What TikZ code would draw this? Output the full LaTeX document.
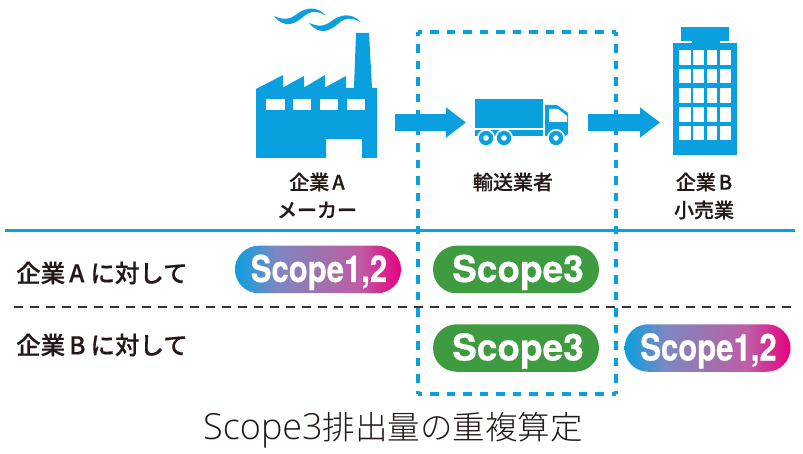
\documentclass[tikz,border=0pt]{standalone}
\usepackage{fontspec}
\usepackage{graphicx}
\usetikzlibrary{arrows.meta}
\setmainfont{Noto Sans CJK JP}
\newfontfamily\jpbold[FakeBold=0.35]{Noto Sans CJK JP Medium}
\newfontfamily\jplight{Noto Sans CJK JP Light}
\newfontfamily\latlight{Open Sans Light}
\setsansfont{TeX Gyre Heros}[BoldFeatures={FakeBold=0.5}]
\definecolor{ibl}{HTML}{0A9FDF}
\definecolor{igr}{HTML}{3F9B3F}
\definecolor{itx}{HTML}{231815}
\definecolor{imag}{HTML}{E6007E}
\definecolor{ig1}{HTML}{7D87C3}
\definecolor{ig2}{HTML}{9C73AE}
\definecolor{ig3}{HTML}{C05CA5}
\pgfdeclarehorizontalshading{scopegrad}{100bp}{color(0bp)=(ibl); color(25bp)=(ibl); color(37.5bp)=(ig1); color(50bp)=(ig2); color(62.5bp)=(ig3); color(75bp)=(imag); color(100bp)=(imag)}
\tikzset{
  x=1pt,y=-1pt,
  icon/.style={fill=ibl,draw=none},
  hole/.style={fill=white,draw=none},
  flow/.style={draw=ibl,line width=17pt,-{Triangle[length=20pt,width=29pt]}},
  zone/.style={draw=ibl,line width=4.8pt,dash pattern=on 8.5pt off 8pt,dash phase=4.25pt},
  caption/.style={font=\jpbold\fontsize{20}{20}\selectfont,text=itx,inner sep=0pt,anchor=center},
  rowlabel/.style={font=\jpbold\fontsize{24.5}{24.5}\selectfont,text=itx,inner sep=0pt,anchor=west},
  pill/.style={minimum width=166pt,minimum height=47.5pt,rounded corners=23.7pt,inner sep=0pt,text=white,text height=33pt,text depth=8pt,font=\sffamily\bfseries\fontsize{37}{37}\selectfont},
  greenpill/.style={pill,fill=igr},
  gradpill/.style={pill,shading=scopegrad,shading angle=0},
}
\begin{document}
\begin{tikzpicture}
\useasboundingbox (0,0) rectangle (803,454);
% factory
\fill[icon] (256,89) -- (283,75) -- (283,87.5) -- (304,76) -- (304,87.5) -- (325,75) -- (325,87.5) -- (346,76) -- (346,88) -- (354,88) -- (356,33) -- (369,33) -- (372,88) -- (377,88) -- (377,158) -- (362,158) -- (362,139) -- (326,139) -- (326,158) -- (256,158) -- cycle;
\foreach \a/\b in {266/285,293/311,320/338,347/365}
  \fill[hole] (\a,99) rectangle (\b,110);
\foreach \dx/\dy in {0/0,35/6.8}
  \fill[icon,shift={(\dx,\dy)}] (274,16) .. controls (283,20) and (289,20) .. (297,14) .. controls (305,8) and (316,5) .. (326,15.5) .. controls (316,10) and (310,11) .. (303,17) .. controls (296,23) and (285,30) .. (274,16) -- cycle;
% truck
\fill[icon] (475,99) rectangle (543,128);
\fill[icon] (475,130) rectangle (543,136);
\fill[icon] (545,105) -- (557,105) -- (568,113) -- (568,134) -- (565,136) -- (545,136) -- cycle;
\fill[hole] (549,109) -- (558,109) -- (567,116) -- (567,122) -- (549,122) -- cycle;
\foreach \c in {486,504,556}{
  \fill[hole] (\c,138) circle[radius=9];
  \fill[icon] (\c,138) circle[radius=7.2];
  \fill[hole] (\c,138) circle[radius=2.8];
}
% building
\fill[icon] (681,27) rectangle (729,41);
\fill[icon] (692,41) rectangle (720,43.5);
\fill[icon] (673,43) rectangle (737,155);
\foreach \ya/\yb in {50/65,69/83,88/103,107/122,126/140}
  \foreach \xa/\xb in {679/691,693/704,707/717,720/731}
    \fill[hole] (\xa,\ya) rectangle (\xb,\yb);
% flow arrows
\coordinate (fa) at (395,122.5);
\coordinate (ta) at (466,122.5);
\coordinate (fb) at (588,122.5);
\coordinate (tb) at (660,122.5);
\draw[flow] (fa) -- (ta);
\draw[flow] (fb) -- (tb);
% rules
\coordinate (r1) at (5,230.5);
\coordinate (r2) at (795,230.5);
\coordinate (d1) at (14,307);
\coordinate (d2) at (795,307);
% dashed zone
\coordinate (z1) at (418,32);
\coordinate (z2) at (616,32);
\coordinate (z3) at (616,394);
\coordinate (z4) at (418,394);
\draw[zone] (z1) -- (z2);
\draw[zone] (z1) -- (z4);
\draw[zone] (z2) -- (z3);
\draw[zone] (z4) -- (z3);
\draw[ibl,line width=3.4pt] (r1) -- (r2);
\draw[itx!90,line width=1.3pt,dash pattern=on 9pt off 7pt] (d1) -- (d2);
% captions
\node[caption] (ca) at (317,182) {企業\hspace{3pt}A};
\node[caption] (cb) at (317,210) {メーカー};
\node[caption] (cc) at (513,182) {輸送業者};
\node[caption] (cd) at (704,182) {企業\hspace{3pt}B};
\node[caption] (ce) at (704,210) {小売業};
% row labels
\node[rowlabel] (la) at (16,273) {企業\hspace{4pt}A\hspace{6pt}に対して};
\node[rowlabel] (lb) at (16,345) {企業\hspace{4pt}B\hspace{5pt}に対して};
% pills
\node[gradpill] (p1) at (318,269.5) {\hspace*{2pt}\scalebox{.84}[1]{Scope1,2}};
\node[greenpill] (p2) at (516,269.5) {\hspace*{4pt}Scope3};
\node[greenpill] (p3) at (516,348) {\hspace*{4pt}Scope3};
\node[gradpill] (p4) at (707.5,348) {\hspace*{2pt}\scalebox{.84}[1]{Scope1,2}};
% title
\node[inner sep=0pt,text=itx] (title) at (393,430) {{\latlight\fontsize{36}{36}\selectfont Scope3}{\jplight\fontsize{32.5}{32.5}\selectfont 排出量の重複算定}};
\end{tikzpicture}
\end{document}
